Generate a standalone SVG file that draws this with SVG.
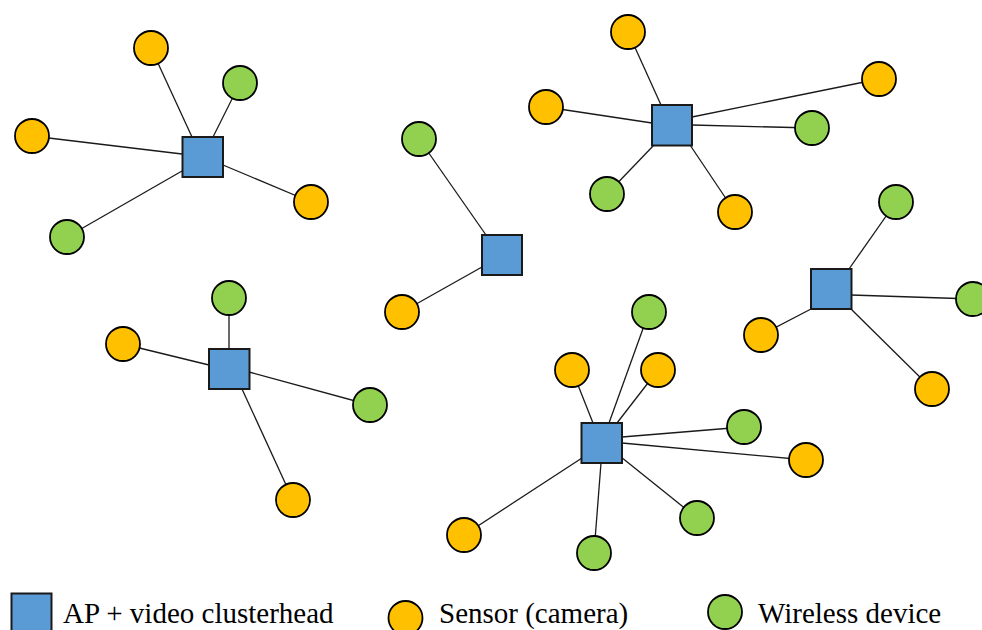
<svg xmlns="http://www.w3.org/2000/svg" width="982" height="630" viewBox="0 0 982 630">
<style>
.ap{fill:#5B9BD5;stroke:#1a1a1a;stroke-width:2}
.s{fill:#FFC000;stroke:#000;stroke-width:1.8}
.w{fill:#92D050;stroke:#000;stroke-width:1.8}
.c line{stroke:#1a1a1a;stroke-width:1.3}
.t{font-family:"Liberation Serif","Times New Roman",serif;font-size:29px;fill:#000}
</style>
<rect width="982" height="630" fill="#fff"/>
<g id="connectors" class="c">
<line x1="151" y1="48" x2="192" y2="137"/>
<line x1="240" y1="83" x2="213" y2="137"/>
<line x1="32" y1="136" x2="182" y2="154"/>
<line x1="67" y1="237" x2="182" y2="171"/>
<line x1="311" y1="202" x2="223" y2="165"/>
<line x1="628" y1="32" x2="661" y2="105"/>
<line x1="879" y1="79" x2="692" y2="117"/>
<line x1="546" y1="107" x2="652" y2="123"/>
<line x1="812" y1="128" x2="692" y2="125"/>
<line x1="607" y1="194" x2="654" y2="145"/>
<line x1="735" y1="212" x2="690" y2="145"/>
<line x1="419" y1="139" x2="486" y2="235"/>
<line x1="402" y1="312" x2="482" y2="267"/>
<line x1="229" y1="298" x2="229" y2="349"/>
<line x1="123" y1="344" x2="209" y2="365"/>
<line x1="370" y1="405" x2="249" y2="372"/>
<line x1="293" y1="500" x2="242" y2="389"/>
<line x1="896" y1="202" x2="849" y2="269"/>
<line x1="973" y1="299" x2="851" y2="295"/>
<line x1="761" y1="335" x2="811" y2="309"/>
<line x1="932" y1="389" x2="851" y2="309"/>
<line x1="649" y1="312" x2="609" y2="423"/>
<line x1="572" y1="370" x2="593" y2="423"/>
<line x1="658" y1="370" x2="617" y2="423"/>
<line x1="744" y1="427" x2="622" y2="437"/>
<line x1="806" y1="460" x2="622" y2="443"/>
<line x1="697" y1="518" x2="621" y2="457"/>
<line x1="594" y1="553" x2="601" y2="463"/>
<line x1="464" y1="535" x2="582" y2="458"/>
</g>
<g id="ap1"><rect class="ap" x="182.5" y="137" width="40.5" height="40"/></g>
<g id="ap2"><rect class="ap" x="652" y="105" width="40" height="40.5"/></g>
<g id="ap3"><rect class="ap" x="482" y="235" width="40" height="40"/></g>
<g id="ap4"><rect class="ap" x="209" y="349" width="40.5" height="40"/></g>
<g id="ap5"><rect class="ap" x="811" y="269" width="40.5" height="40"/></g>
<g id="ap6"><rect class="ap" x="581.5" y="423" width="40.5" height="40"/></g>
<g id="n1"><circle class="s" cx="151" cy="48" r="17"/></g>
<g id="n2"><circle class="w" cx="240" cy="83" r="17"/></g>
<g id="n3"><circle class="s" cx="32" cy="136" r="17"/></g>
<g id="n4"><circle class="w" cx="67" cy="237" r="17"/></g>
<g id="n5"><circle class="s" cx="311" cy="202" r="17"/></g>
<g id="n6"><circle class="s" cx="628" cy="32" r="17"/></g>
<g id="n7"><circle class="s" cx="879" cy="79" r="17"/></g>
<g id="n8"><circle class="s" cx="546" cy="107" r="17"/></g>
<g id="n9"><circle class="w" cx="812" cy="128" r="17"/></g>
<g id="n10"><circle class="w" cx="607" cy="194" r="17"/></g>
<g id="n11"><circle class="s" cx="735" cy="212" r="17"/></g>
<g id="n12"><circle class="w" cx="419" cy="139" r="17"/></g>
<g id="n13"><circle class="s" cx="402" cy="312" r="17"/></g>
<g id="n14"><circle class="w" cx="229" cy="298" r="17"/></g>
<g id="n15"><circle class="s" cx="123" cy="344" r="17"/></g>
<g id="n16"><circle class="w" cx="370" cy="405" r="17"/></g>
<g id="n17"><circle class="s" cx="293" cy="500" r="17"/></g>
<g id="n18"><circle class="w" cx="896" cy="202" r="17"/></g>
<g id="n19"><circle class="w" cx="973" cy="299" r="17"/></g>
<g id="n20"><circle class="s" cx="761" cy="335" r="17"/></g>
<g id="n21"><circle class="s" cx="932" cy="389" r="17"/></g>
<g id="n22"><circle class="w" cx="649" cy="312" r="17"/></g>
<g id="n23"><circle class="s" cx="572" cy="370" r="17"/></g>
<g id="n24"><circle class="s" cx="658" cy="370" r="17"/></g>
<g id="n25"><circle class="w" cx="744" cy="427" r="17"/></g>
<g id="n26"><circle class="s" cx="806" cy="460" r="17"/></g>
<g id="n27"><circle class="w" cx="697" cy="518" r="17"/></g>
<g id="n28"><circle class="w" cx="594" cy="553" r="17"/></g>
<g id="n29"><circle class="s" cx="464" cy="535" r="17"/></g>
<g id="legend">
<rect class="ap" x="11.5" y="593.5" width="40" height="42"/>
<text class="t" x="63" y="623">AP + video clusterhead</text>
<circle class="s" cx="405.5" cy="618" r="17"/>
<text class="t" x="439" y="623">Sensor (camera)</text>
<circle class="w" cx="725" cy="612" r="17"/>
<text class="t" x="758" y="623">Wireless device</text>
</g>
</svg>
